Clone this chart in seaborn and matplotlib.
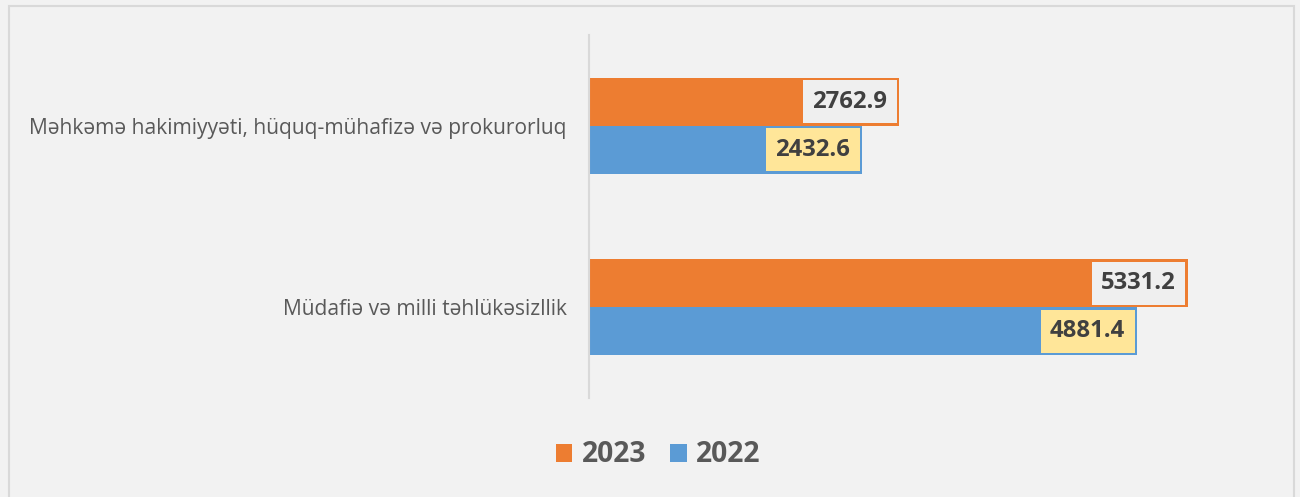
import matplotlib
matplotlib.use("Agg")
import matplotlib.pyplot as plt
import matplotlib.transforms as mtransforms
from matplotlib.patches import Rectangle, Patch
import seaborn as sns
import pandas as pd

categories = ["Məhkəmə hakimiyyəti, hüquq-mühafizə və prokurorluq",
              "Müdafiə və milli təhlükəsizllik"]
years = ["2023", "2022"]
values_2023 = [2762.9, 5331.2]
values_2022 = [2432.6, 4881.4]

colors = {"2023": "#ED7D31", "2022": "#5B9BD5"}
box_colors = {"2023": "#EFEFEF", "2022": "#FFE699"}

rows = []
for c, v in zip(categories, values_2023):
    rows.append({"cat": c, "year": "2023", "val": v})
for c, v in zip(categories, values_2022):
    rows.append({"cat": c, "year": "2022", "val": v})
df = pd.DataFrame(rows)

sns.set_theme(style="white")
plt.rcParams["font.family"] = ["Open Sans", "DejaVu Sans"]

W, H = 1300, 497
fig = plt.figure(figsize=(13, 4.97), dpi=100, facecolor="#F2F2F2")
ax = fig.add_axes([589 / W, 1 - 398 / H, (1263 - 589) / W, (398 - 35) / H])
ax.set_facecolor("#F2F2F2")

sns.barplot(data=df, y="cat", x="val", hue="year", hue_order=years,
            order=categories, palette=colors, orient="h", width=0.529,
            linewidth=0, saturation=1, ax=ax)

ax.set_xlim(0, 6000)
ax.set_ylim(1.5, -0.5)
ax.set_xlabel("")
ax.set_ylabel("")
ax.set_xticks([])
for s in ["top", "right", "bottom"]:
    ax.spines[s].set_visible(False)
ax.spines["left"].set_color("#D9D9D9")
ax.spines["left"].set_linewidth(1.5)
ax.tick_params(axis="y", length=0, pad=16, labelsize=15.1, labelcolor="#595959")
if ax.get_legend() is not None:
    ax.get_legend().remove()

# value labels
for container, yr in zip(ax.containers, years):
    for bar in container:
        w = bar.get_width()
        yc = bar.get_y() + bar.get_height() / 2
        trans = mtransforms.offset_copy(ax.transData, fig=fig, x=-12, y=0, units="dots")
        ax.text(w, yc, f"{w:.1f}", transform=trans, ha="right", va="center",
                fontsize=17.2, fontweight="bold", color="#404040",
                bbox=dict(boxstyle="square,pad=0.4", facecolor=box_colors[yr],
                          edgecolor="none"))

handles = [Patch(facecolor=colors[y], edgecolor="none", label=y) for y in years]
leg = fig.legend(handles=handles, loc="center", bbox_to_anchor=(658 / W, 1 - 455 / H),
                 ncol=2, frameon=False, handlelength=0.6, handleheight=0.6,
                 handletextpad=0.32, columnspacing=0.85,
                 prop={"size": 20.3, "weight": "bold"})
for t in leg.get_texts():
    t.set_color("#595959")

fig.patches.append(Rectangle((8.5 / W, -0.01), (1294 - 8.5) / W, 1.01 - 5.5 / H,
                             transform=fig.transFigure, fill=False,
                             edgecolor="#D9D9D9", linewidth=1.5))

fig.savefig("out.png", dpi=100, facecolor=fig.get_facecolor())
